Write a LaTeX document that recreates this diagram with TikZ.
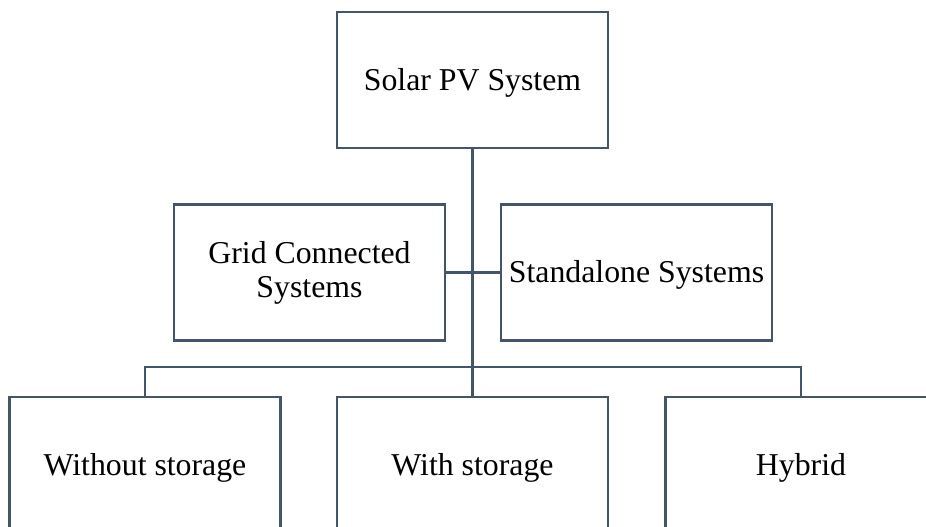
\documentclass[tikz,border=0pt]{standalone}
\usepackage{fontspec}
\setmainfont{Liberation Serif}
\definecolor{edge}{HTML}{44546A}
\begin{document}
\begin{tikzpicture}[x=1pt,y=-1pt,
  box/.style={draw=edge,line width=2.2pt,fill=white,minimum width=271pt,minimum height=136pt,inner sep=0pt,align=center,font=\fontsize{31.8}{34}\selectfont,text=black},
  oneline/.style={box,text height=21pt,text depth=1pt},
  conn/.style={draw=edge,line width=2.2pt}]
\clip (0,0) rectangle (926,527);
\useasboundingbox (0,0) rectangle (926,527);
\node[oneline] (top) at (472.5,80) {Solar PV System};
\node[box] (grid) at (309.5,272.5) {Grid Connected\\Systems};
\node[oneline] (stand) at (636.5,272.5) {Standalone Systems};
\node[oneline] (b1) at (145,465) {Without storage};
\node[oneline] (b2) at (472.5,465) {With storage};
\node[oneline] (b3) at (801,465) {Hybrid};
\draw[conn] (top.south) -- (b2.north);
\draw[conn] (grid.east) -- (stand.west);
\draw[conn] (b1.north) -- ++(0,-29) -| (b3.north);
\end{tikzpicture}
\end{document}
